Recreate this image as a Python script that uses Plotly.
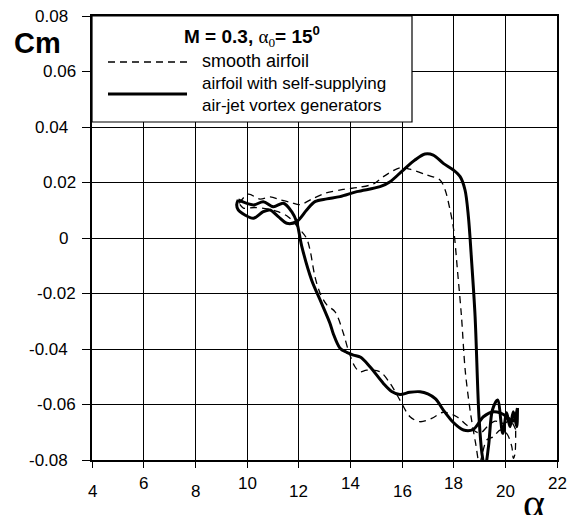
import plotly.graph_objects as go

# ---------------- data ----------------
# airfoil with self-supplying air-jet vortex generators (solid)
jet_up_alpha = [9.66, 9.60, 9.66, 9.92, 10.25, 10.63, 10.89, 11.21, 11.54, 11.92, 12.31, 12.63, 13.09,
                13.6, 14.25, 15.15, 15.54, 16.05, 16.5, 16.89, 17.21, 17.6, 17.99, 18.25, 18.44,
                18.57, 18.7, 18.83, 18.98, 19.1, 19.21, 19.35, 19.5, 19.7, 19.9, 20.05, 20.18,
                20.31, 20.44, 20.47]
jet_up_cm = [0.0137, 0.012, 0.0101, 0.0083, 0.0071, 0.0095, 0.0101, 0.0077, 0.0053, 0.0059, 0.0101,
             0.0131, 0.0141, 0.0149, 0.0167, 0.0185, 0.0203, 0.0245, 0.0281, 0.0303, 0.0299, 0.0269,
             0.0245, 0.0221, 0.0173, 0.0077, -0.0091, -0.0284, -0.0644, -0.078, -0.083, -0.075,
             -0.062, -0.0584, -0.0704, -0.063, -0.068, -0.0626, -0.068, -0.0613]
jet_down_alpha = [20.47, 20.3, 20.0, 19.8, 19.54, 19.15, 18.76, 18.38, 17.99, 17.6, 17.3, 17.0, 16.7,
                  16.3, 15.92, 15.6, 15.28, 14.76, 14.4, 14.12, 13.86, 13.6, 13.34, 13.21, 12.83,
                  12.5, 12.12, 11.92, 11.73, 11.41, 11.02, 10.63, 10.25, 9.66]
jet_down_cm = [-0.0613, -0.066, -0.064, -0.063, -0.0626, -0.0644, -0.069, -0.0692, -0.0665, -0.062,
               -0.058, -0.0562, -0.0554, -0.0556, -0.0564, -0.0553, -0.0524, -0.0464, -0.043, -0.0422,
               -0.0412, -0.0397, -0.0345, -0.0307, -0.0223, -0.0151, -0.003, 0.0059, 0.0095, 0.0125,
               0.0113, 0.0131, 0.0119, 0.0137]

# smooth airfoil (dashed)
smooth_up_alpha = [9.7, 10.05, 10.5, 10.9, 11.3, 11.7, 12.05, 12.5, 13.02, 13.72, 14.3, 14.9, 15.28,
                   15.92, 16.31, 16.96, 17.47, 17.67, 17.86, 18.0, 18.15, 18.3, 18.45, 18.65, 18.85,
                   19.0, 19.28, 19.54, 19.8, 20.05, 20.25, 20.31, 20.37, 20.4]
smooth_up_cm = [0.0125, 0.0158, 0.014, 0.0148, 0.0137, 0.0128, 0.012, 0.014, 0.0161, 0.0175, 0.0182,
                0.0195, 0.0221, 0.0253, 0.0248, 0.0227, 0.0209, 0.0173, 0.0101, 0.003, -0.012, -0.028,
                -0.048, -0.063, -0.074, -0.081, -0.0728, -0.0716, -0.0692, -0.0704, -0.0752, -0.0794,
                -0.078, -0.069]
smooth_down_alpha = [20.4, 20.2, 19.92, 19.6, 19.3, 19.02, 18.5, 18.12, 17.6, 17.15, 16.7, 16.31,
                     15.92, 15.54, 15.15, 14.63, 14.37, 14.18, 13.92, 13.73, 13.41, 13.09, 12.83,
                     12.63, 12.44, 12.3, 12.05, 11.6, 11.2, 10.8, 10.3, 9.86, 9.7]
smooth_down_cm = [-0.069, -0.066, -0.0668, -0.066, -0.068, -0.0703, -0.0674, -0.0644, -0.0628, -0.065,
                  -0.0662, -0.0644, -0.0584, -0.0524, -0.0482, -0.0476, -0.0482, -0.0464, -0.0404,
                  -0.0343, -0.0266, -0.0241, -0.0199, -0.0139, -0.0043, 0.0, 0.003, 0.0076, 0.0095,
                  0.0105, 0.011, 0.0108, 0.0125]

# staggered tick labels (two rows / two columns as in the original figure)
x_ticks_upper = [6, 10, 14, 18, 22]
x_ticks_lower = [4, 8, 12, 16, 20]
y_ticks_inner = [-0.06, -0.02, 0.02, 0.06]
y_labels_inner = ["-0.06", "-0.02", "0.02", "0.06"]
y_ticks_outer = [-0.08, -0.04, 0.0, 0.04, 0.08]
y_labels_outer = ["-0.08", "-0.04", "0", "0.04", "0.08"]

legend_title = ("<b>M = 0.3, </b><span style='font-family:Liberation Serif'>α<sub>0</sub></span>"
                "<b>= 15<sup>0</sup></b>")
label_smooth = "smooth airfoil"
label_jet = "airfoil with self-supplying<br>air-jet vortex generators"

FONT = "Liberation Sans, Arial, sans-serif"

fig = go.Figure()
for xs, ys in [(smooth_up_alpha, smooth_up_cm), (smooth_down_alpha, smooth_down_cm)]:
    fig.add_trace(go.Scatter(x=xs, y=ys, mode="lines", name=label_smooth, showlegend=False,
                             line=dict(color="black", width=1.3, dash="7px,5px", shape="spline",
                                       smoothing=0.9)))
for xs, ys in [(jet_up_alpha, jet_up_cm), (jet_down_alpha, jet_down_cm)]:
    fig.add_trace(go.Scatter(x=xs, y=ys, mode="lines",
                             name="airfoil with self-supplying air-jet vortex generators",
                             showlegend=False,
                             line=dict(color="black", width=3, shape="spline", smoothing=0.9)))

all_x = sorted(x_ticks_upper + x_ticks_lower)
all_y = sorted(y_ticks_inner + y_ticks_outer)

fig.update_layout(
    width=577, height=515,
    margin=dict(l=92, r=20, t=16, b=55),
    paper_bgcolor="white", plot_bgcolor="white",
    font=dict(family=FONT, size=17, color="black"),
    showlegend=False,
    xaxis=dict(range=[4, 22], tickvals=all_x, showticklabels=False,
               showgrid=True, gridcolor="black", gridwidth=1, zeroline=False,
               showline=True, linecolor="black", linewidth=1.5, mirror=True,
               ticks="outside", ticklen=6, tickcolor="black"),
    yaxis=dict(range=[-0.08, 0.08], tickvals=all_y, showticklabels=False,
               showgrid=True, gridcolor="black", gridwidth=1, zeroline=False,
               showline=True, linecolor="black", linewidth=1.5, mirror=True,
               ticks="outside", ticklen=8, tickcolor="black"),
)

W, H = 577 - 92 - 20, 515 - 16 - 55


def px(xp):
    return (xp - 92) / W


def py(yp):
    return (460 - yp) / H


shapes = [
    dict(type="rect", xref="paper", yref="paper", x0=0, x1=px(412), y0=py(122), y1=1,
         fillcolor="white", line=dict(color="black", width=1.2), layer="above"),
    dict(type="line", xref="paper", yref="paper", x0=px(108), x1=px(187), y0=py(62), y1=py(62),
         line=dict(color="black", width=1.3, dash="7px,5px"), layer="above"),
    dict(type="line", xref="paper", yref="paper", x0=px(108), x1=px(187), y0=py(94), y1=py(94),
         line=dict(color="black", width=3), layer="above"),
]
fig.update_layout(shapes=shapes)

ann = [
    dict(text=legend_title, x=px(252), y=py(37), xref="paper", yref="paper", xanchor="center",
         yanchor="middle", font=dict(size=19)),
    dict(text=label_smooth, x=px(200), y=py(61), xref="paper", yref="paper", xanchor="left",
         yanchor="middle", font=dict(size=18)),
    dict(text=label_jet, x=px(200), y=py(95), xref="paper", yref="paper", xanchor="left",
         yanchor="middle", align="left", font=dict(size=17)),
    dict(text="<b>Cm</b>", x=px(37.5), y=py(43.5), xref="paper", yref="paper", xanchor="center",
         yanchor="middle", font=dict(size=29)),
    dict(text="α", x=px(533.5), y=py(503), xref="paper", yref="paper", xanchor="center",
         yanchor="middle", font=dict(size=42, family="Liberation Serif, Times New Roman, serif")),
]
# tick labels placed on the axes' scales, staggered like the original
for v in x_ticks_upper:
    ann.append(dict(text=str(v), x=v, xref="x", y=py(484), yref="paper",
                    xanchor="center", yanchor="middle"))
for v in x_ticks_lower:
    ann.append(dict(text=str(v), x=v, xref="x", y=py(491), yref="paper",
                    xanchor="center", yanchor="middle"))
for v, lab in zip(y_ticks_inner, y_labels_inner):
    ann.append(dict(text=lab, x=px(78), xref="paper", y=v, yref="y",
                    xanchor="right", yanchor="middle"))
for v, lab in zip(y_ticks_outer, y_labels_outer):
    ann.append(dict(text=lab, x=px(70), xref="paper", y=v, yref="y",
                    xanchor="right", yanchor="middle"))
for a in ann:
    a.update(showarrow=False)
    a.setdefault("font", dict(size=17))
fig.update_layout(annotations=ann)

fig.write_html("out.html")
